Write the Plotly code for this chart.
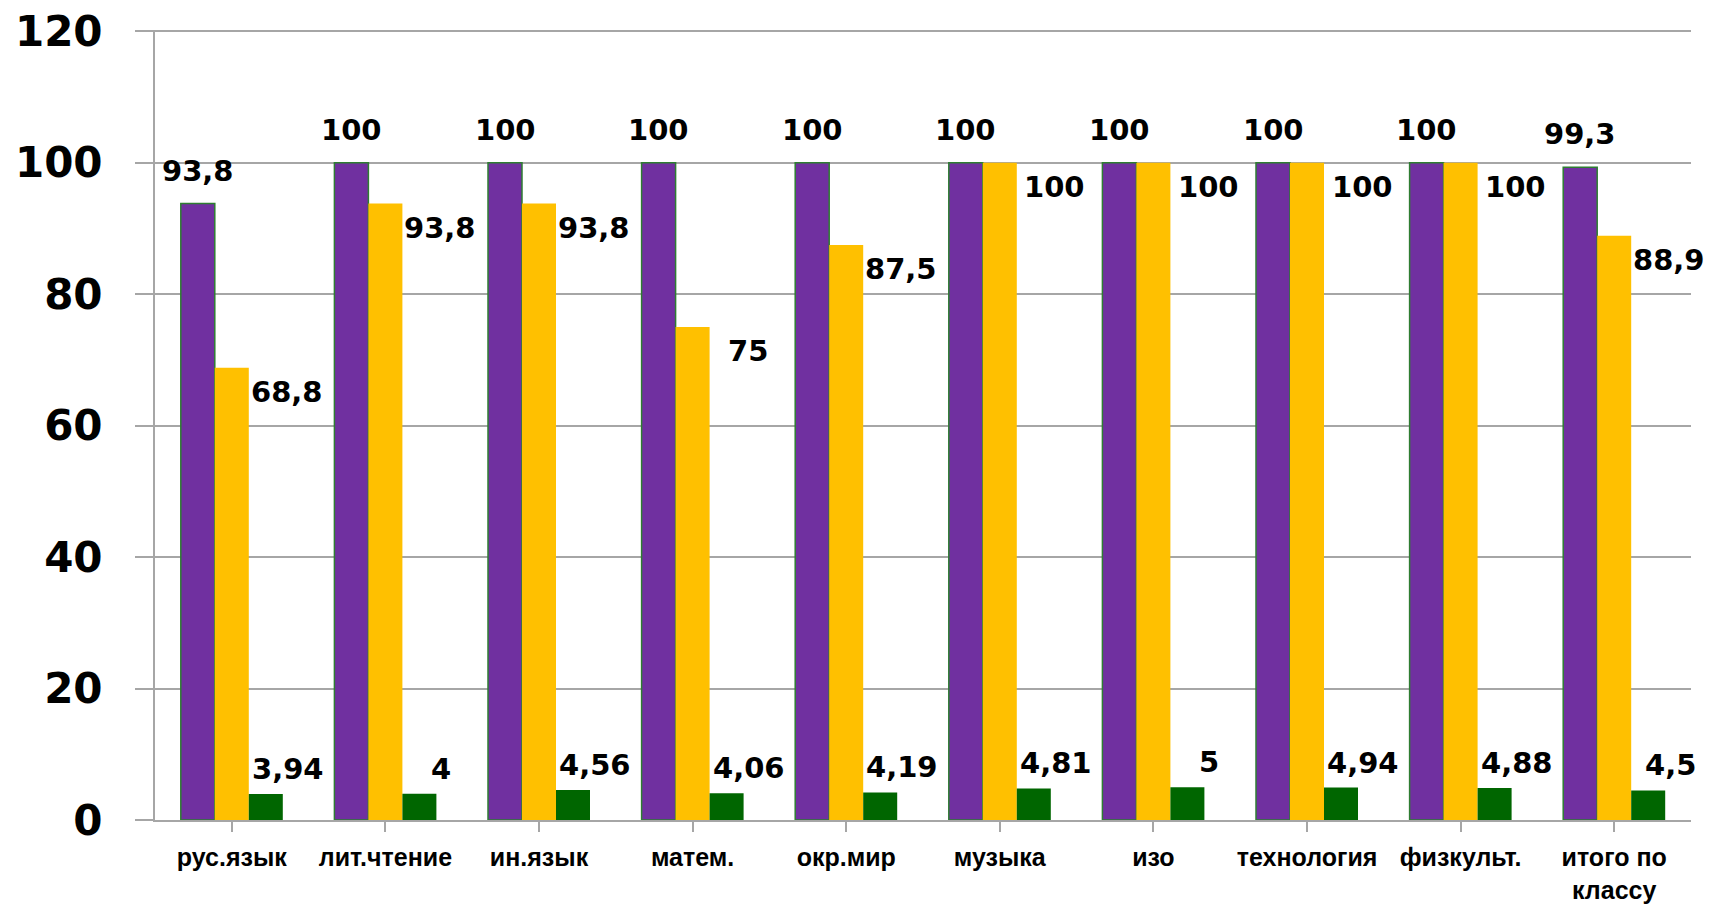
import plotly.graph_objects as go

categories = ["рус.язык", "лит.чтение", "ин.язык", "матем.", "окр.мир",
              "музыка", "изо", "технология", "физкульт.", "итого по<br>классу"]
purple_vals = [93.8, 100, 100, 100, 100, 100, 100, 100, 100, 99.3]
yellow_vals = [68.8, 93.8, 93.8, 75, 87.5, 100, 100, 100, 100, 88.9]
green_vals = [3.94, 4, 4.56, 4.06, 4.19, 4.81, 5, 4.94, 4.88, 4.5]
y_ticks = [0, 20, 40, 60, 80, 100, 120]

PURPLE = "#7030A0"
YELLOW = "#FFC000"
GREEN = "#006600"
GRID = "#A6A6A6"
BARGAP = 0.336
NUM_FONT = dict(family="DejaVu Sans", size=29, color="black", weight="bold")


def fmt(v):
    return f"{v:g}".replace(".", ",")


x_idx = list(range(len(categories)))

fig = go.Figure()
fig.add_trace(go.Bar(x=x_idx, y=purple_vals, marker=dict(color=PURPLE, line=dict(color="#2E7D32", width=1.5)),
                     name="purple"))
fig.add_trace(go.Bar(x=x_idx, y=yellow_vals, marker=dict(color=YELLOW, line=dict(width=0)), name="yellow"))
fig.add_trace(go.Bar(x=x_idx, y=green_vals, marker=dict(color=GREEN, line=dict(width=0)), name="green"))

bw = (1 - BARGAP) / 3  # one bar width in data units
annotations = []
for i in x_idx:
    annotations.append(dict(x=i - bw, y=purple_vals[i], text=fmt(purple_vals[i]), xref="x", yref="y",
                            showarrow=False, xanchor="center", yanchor="middle", yshift=33, font=NUM_FONT))
    annotations.append(dict(x=i, y=yellow_vals[i], text=fmt(yellow_vals[i]), xref="x", yref="y",
                            showarrow=False, xanchor="center", yanchor="middle", xshift=55, yshift=-24,
                            font=NUM_FONT))
    annotations.append(dict(x=i + bw, y=green_vals[i], text=fmt(green_vals[i]), xref="x", yref="y",
                            showarrow=False, xanchor="center", yanchor="middle", xshift=22, yshift=25,
                            font=NUM_FONT))

fig.update_layout(
    width=1715, height=904, autosize=False,
    margin=dict(l=147, r=32, t=22, b=92),
    paper_bgcolor="white", plot_bgcolor="white",
    barmode="group", bargap=BARGAP, bargroupgap=0,
    showlegend=False,
    annotations=annotations,
)
fig.update_xaxes(
    tickmode="array", tickvals=x_idx, ticktext=categories,
    range=[-0.5, len(categories) - 0.5],
    showline=True, linecolor=GRID, linewidth=2,
    ticks="outside", tickson="boundaries", ticklen=10, tickcolor=GRID, tickwidth=2,
    showgrid=False, zeroline=False, automargin=False, tickangle=0,
    tickfont=dict(family="Liberation Sans", size=25, color="black", weight="bold"),
    ticklabelstandoff=4, ticklabeloverflow="allow",
)
fig.update_yaxes(
    range=[0, 120.2], tickmode="array", tickvals=y_ticks, ticktext=[str(t) for t in y_ticks],
    showline=True, linecolor=GRID, linewidth=2,
    showgrid=True, gridcolor=GRID, gridwidth=2,
    ticks="outside", ticklen=18, tickcolor=GRID, tickwidth=2,
    zeroline=False, automargin=False,
    tickfont=dict(family="DejaVu Sans", size=42, color="black", weight="bold"),
    ticklabelstandoff=24, ticklabeloverflow="allow",
)

fig.write_html("out.html")
